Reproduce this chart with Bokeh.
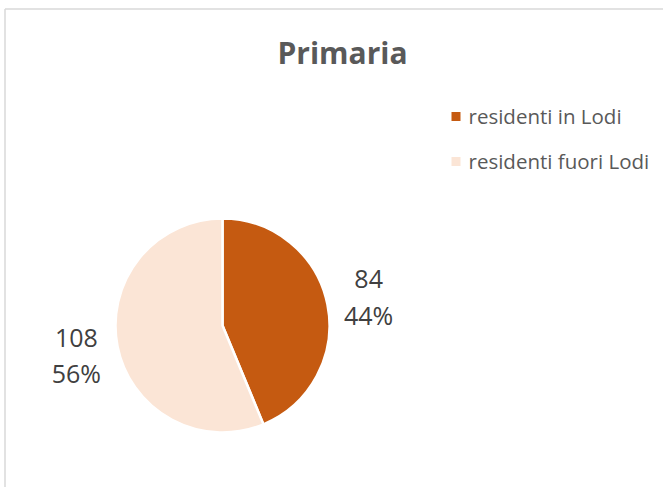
import math
from bokeh.plotting import figure
from bokeh.models import Range1d, ColumnDataSource
from bokeh.core.properties import value
from bokeh.embed import file_html
from bokeh.resources import INLINE

title = "Primaria"
categories = ["residenti in Lodi", "residenti fuori Lodi"]
counts = [84, 108]
colors = ["#C55A11", "#FBE5D6"]

FONT = value("Open Sans")
W, H = 663, 487
p = figure(width=W, height=H, output_backend="svg", toolbar_location=None,
           x_range=Range1d(0, W), y_range=Range1d(0, H), min_border=0)
p.axis.visible = False
p.grid.visible = False
p.outline_line_color = None
p.background_fill_color = "white"

# chart border (left and top visible)
p.line([4.5, 4.5], [0, 478.5], line_color="#d9d9d9", line_width=1.5)
p.line([4.5, W], [478.5, 478.5], line_color="#d9d9d9", line_width=1.5)

cx, cy, r = 222, 162, 107
total = sum(counts)
starts, ends, mids = [], [], []
a = math.pi / 2
for c in counts:
    sweep = 2 * math.pi * c / total
    starts.append(a)
    ends.append(a - sweep)
    mids.append(a - sweep / 2)
    a -= sweep

src = ColumnDataSource(dict(start=starts, end=ends, color=colors))
p.wedge(x=cx, y=cy, radius=r, start_angle="start", end_angle="end",
        direction="clock", fill_color="color", line_color="white",
        line_width=2.5, source=src)

# data labels
lr = 149
lx = [cx + lr * math.cos(m) for m in mids]
ly = [cy + lr * math.sin(m) for m in mids]
pct = [f"{round(100 * c / total)}%" for c in counts]
p.text(x=lx, y=[y + 17 for y in ly], text=[str(c) for c in counts],
       text_align="center", text_baseline="alphabetic", text_color="#404040",
       text_font=FONT, text_font_size="25px")
p.text(x=lx, y=[y - 18.5 for y in ly], text=pct,
       text_align="center", text_baseline="alphabetic", text_color="#404040",
       text_font=FONT, text_font_size="25px")

# title
p.text(x=[342], y=[435], text=[title], text_align="center", text_baseline="alphabetic",
       text_color="#595959", text_font=FONT, text_font_size="30px",
       text_font_style="bold")

# legend
lgx = 455.5
lgy = [371, 326]
p.rect(x=lgx, y=lgy, width=9, height=9, fill_color=colors, line_color=None)
p.text(x=468, y=[y + 1 for y in lgy], text=categories, text_align="left",
       text_baseline="alphabetic", text_color="#595959", text_font=FONT,
       text_font_size="20.5px")

open("out.html", "w").write(file_html(p, INLINE))
